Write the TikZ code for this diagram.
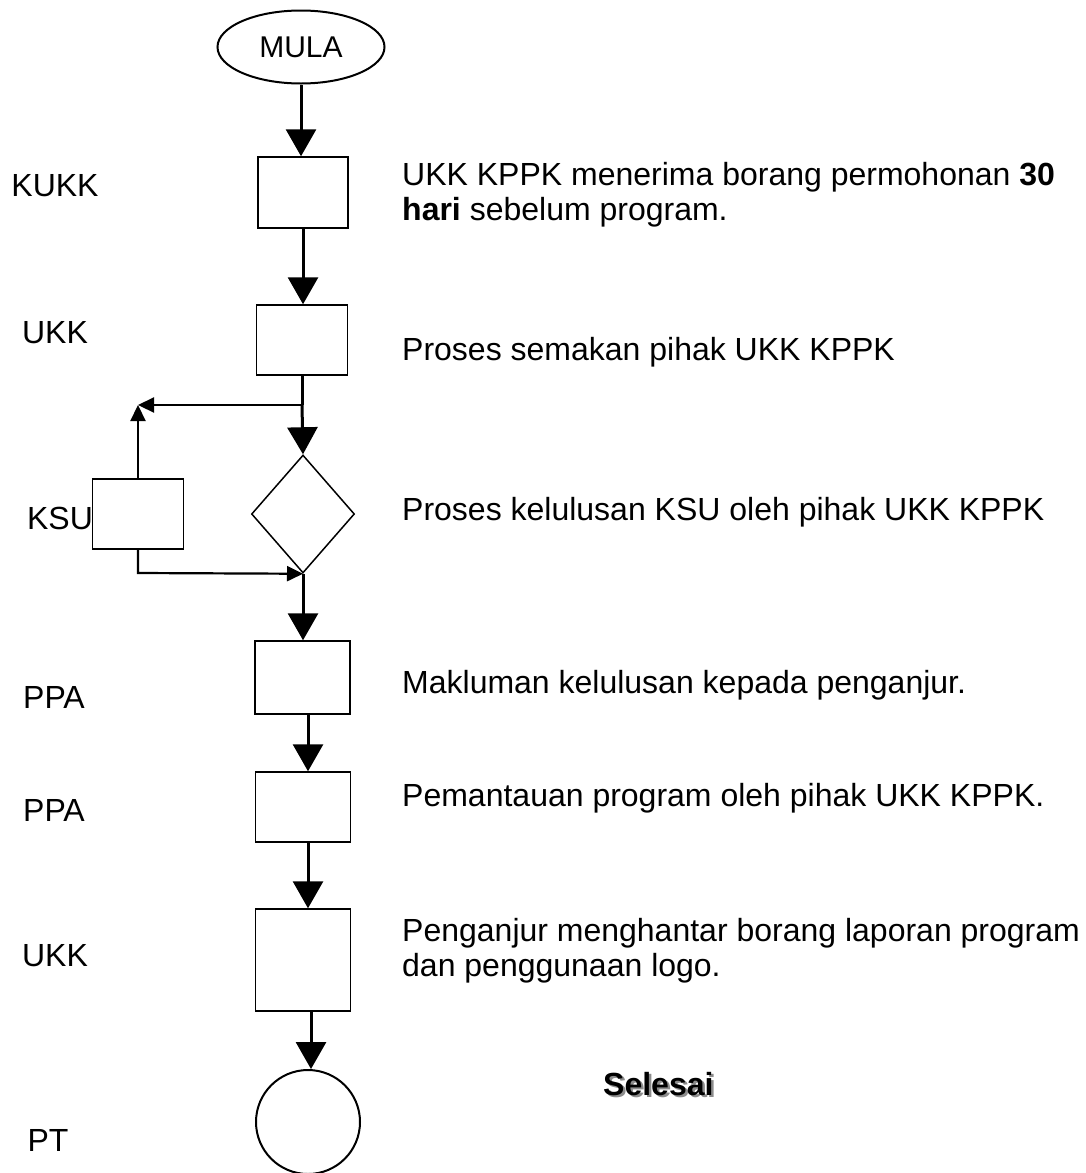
\documentclass[tikz,border=0pt]{standalone}
\usepackage{fontspec}
\setmainfont{Liberation Sans}
\usetikzlibrary{shapes.geometric,arrows.meta}
\begin{document}
\begin{tikzpicture}[x=1pt,y=-1pt,
  box/.style={draw,line width=1.5pt,inner sep=0pt},
  lbl/.style={font=\fontsize{32}{35}\selectfont,anchor=base,inner sep=0pt},
  txt/.style={font=\fontsize{32}{35}\selectfont,anchor=base west,inner sep=0pt},
  mainarr/.style={line width=3pt,-{Triangle[width=30pt,length=27pt]}},
  thinline/.style={line width=2.2pt},
  thinarr/.style={line width=2.2pt,-{Triangle[width=15pt,length=16pt]}}]
\useasboundingbox (0,0) rectangle (1086,1173);
% shapes
\node[ellipse,draw,line width=2pt,minimum width=167pt,minimum height=73pt,inner sep=0pt,font=\fontsize{30}{30}\selectfont] (mula) at (301,47) {MULA};
\node[box,minimum width=90pt,minimum height=71pt] (b1) at (303,192.5) {};
\node[box,minimum width=91pt,minimum height=70pt] (b2) at (302,340) {};
\node[diamond,draw,line width=1.5pt,minimum width=103pt,minimum height=118pt,inner sep=0pt] (dia) at (303,514) {};
\node[box,minimum width=91pt,minimum height=70pt] (ksu) at (138,514) {};
\node[box,minimum width=95pt,minimum height=73pt] (p1) at (302.5,677.5) {};
\node[box,minimum width=95pt,minimum height=70pt] (p2) at (303,807) {};
\node[box,minimum width=95pt,minimum height=102pt] (u3) at (303,960) {};
\node[circle,draw,line width=2pt,minimum size=104pt,inner sep=0pt] (fin) at (308,1122) {};
\coordinate (br) at (302,405);
\coordinate (c1) at (138,405);
\coordinate (c2) at (138,573);
% connectors
\draw[mainarr] (mula.south) -- (mula.south |- b1.north);
\draw[mainarr] (b1.south) -- (b1.south |- b2.north);
\draw[line width=3pt] (b2.south) -- (br);
\draw[mainarr] (br) -- (dia.north);
\draw[thinarr] (br) -- (c1);
\draw[thinarr] (ksu.north) -- (c1);
\draw[thinarr] (ksu.south) -- (c2) -- (dia.south);
\draw[mainarr] (dia.south) -- (dia.south |- p1.north);
\draw[mainarr] ([xshift=5.5pt]p1.south) -- ([xshift=5.5pt]p1.south |- p2.north);
\draw[mainarr] ([xshift=5pt]p2.south) -- ([xshift=5pt]p2.south |- u3.north);
\draw[mainarr] ([xshift=8pt]u3.south) -- ([xshift=8pt]u3.south |- fin.north);
% left labels
\node[lbl] (l1) at (55,196) {KUKK};
\node[lbl] (l2) at (55,343) {UKK};
\node[lbl] (l3) at (60,529) {KSU};
\node[lbl] (l4) at (54,708) {PPA};
\node[lbl] (l5) at (54,821) {PPA};
\node[lbl] (l6) at (55,966) {UKK};
\node[lbl] (l7) at (48,1151) {PT};
% right texts
\node[txt] (t1a) at (402,185) {UKK KPPK menerima borang permohonan \textbf{30}};
\node[txt] (t1b) at (402,220) {\textbf{hari} sebelum program.};
\node[txt] (t2) at (402,360) {Proses semakan pihak UKK KPPK};
\node[txt] (t3) at (402,520) {Proses kelulusan KSU oleh pihak UKK KPPK};
\node[txt] (t4) at (402,693) {Makluman kelulusan kepada penganjur.};
\node[txt] (t5) at (402,806) {Pemantauan program oleh pihak UKK KPPK.};
\node[txt] (t6a) at (402,941) {Penganjur menghantar borang laporan program};
\node[txt] (t6b) at (402,976) {dan penggunaan logo.};
\node[txt,font=\bfseries\fontsize{32}{35}\selectfont,text=black!45] (selsh) at (605.5,1097.5) {Selesai};
\node[txt,font=\bfseries\fontsize{32}{35}\selectfont] (sel) at (603,1095) {Selesai};
\end{tikzpicture}
\end{document}
